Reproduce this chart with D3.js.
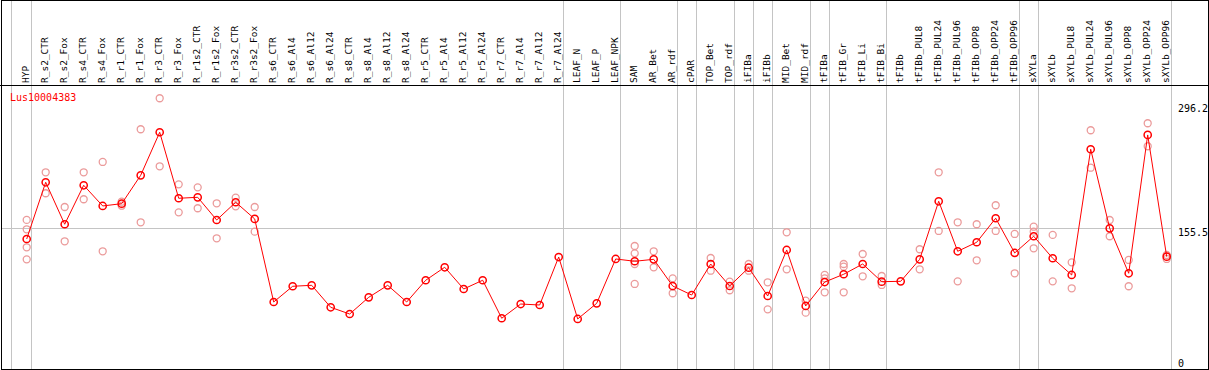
<!DOCTYPE html>
<html>
<head>
<meta charset="utf-8">
<script src="https://cdn.jsdelivr.net/npm/d3@7"></script>
<style>
	body { margin: 0; background: #fff; }
	svg { display: block; }
	.lbl { font-family: "DejaVu Sans Mono", monospace; font-size: 9.5px; fill: #000; }
	.axlbl { font-family: "DejaVu Sans Mono", monospace; font-size: 10px; fill: #000; }
</style>
</head>
<body>
<svg width="1209" height="370"></svg>
<script>
var geneName = "Lus10004383";

var labels = ["HYP", "R_s2_CTR", "R_s2_Fox", "R_s4_CTR", "R_s4_Fox", "R_r1_CTR", "R_r1_Fox",
	"R_r3_CTR", "R_r3_Fox", "R_r1s2_CTR", "R_r1s2_Fox", "R_r3s2_CTR", "R_r3s2_Fox",
	"R_s6_CTR", "R_s6_Al4", "R_s6_Al12", "R_s6_Al24", "R_s8_CTR", "R_s8_Al4", "R_s8_Al12", "R_s8_Al24",
	"R_r5_CTR", "R_r5_Al4", "R_r5_Al12", "R_r5_Al24", "R_r7_CTR", "R_r7_Al4", "R_r7_Al12", "R_r7_Al24",
	"LEAF_N", "LEAF_P", "LEAF_NPK", "SAM", "AR_Bet", "AR_rdf", "cPAR", "TOP_Bet", "TOP_rdf",
	"iFIBa", "iFIBb", "MID_Bet", "MID_rdf", "tFIBa", "tFIB_Gr", "tFIB_Li", "tFIB_Bi", "tFIBb",
	"tFIBb_PUL8", "tFIBb_PUL24", "tFIBb_PUL96", "tFIBb_OPP8", "tFIBb_OPP24", "tFIBb_OPP96",
	"sXYLa", "sXYLb", "sXYLb_PUL8", "sXYLb_PUL24", "sXYLb_PUL96", "sXYLb_OPP8", "sXYLb_OPP24", "sXYLb_OPP96"];

// mean expression per sample
var means = [143.4, 207.6, 160.1, 204.2, 180.8, 183.4, 215.5, 264.2, 189.5, 190.6, 164.9, 185.0, 166.1,
	72.1, 89.9, 91.0, 66.1, 58.5, 77.4, 91.0, 72.1, 96.7, 111.4, 86.8, 96.7, 53.7, 69.8, 68.7, 123.0,
	52.9, 70.6, 120.8, 118.2, 120.4, 90.2, 80.0, 115.1, 90.2, 110.9, 78.9, 131.0, 67.6,
	94.7, 103.5, 115.1, 95.1, 95.5, 120.4, 186.1, 129.5, 139.7, 166.9, 127.6,
	146.5, 121.6, 102.7, 245.0, 155.5, 104.6, 261.2, 123.4];

// replicate values (empty where none shown)
var reps = [[165.0, 154.4, 134.0, 120.4], [218.9, 195.2], [179.6, 140.8], [218.9, 188.4], [230.6, 129.5],
	[185.6, 181.1], [267.6, 162.3], [302.7, 225.7], [205.3, 173.6], [201.9, 178.2], [183.8, 144.2],
	[190.2, 180.4], [179.6, 151.7],
	[], [], [], [], [], [], [], [], [], [], [], [], [], [], [], [], [], [], [],
	[135.5, 127.2, 115.1, 92.5], [129.5, 111.4], [98.9, 82.0], [], [121.9, 107.5], [95.1, 85.4],
	[115.1, 107.5], [94.4, 63.8], [151.0, 109.1], [73.6, 60.0], [102.7, 98.9, 83.1], [115.1, 112.1, 83.1],
	[126.4, 101.2], [101.5, 91.4], [], [131.8, 109.1], [218.9, 152.5], [162.3, 95.5], [160.1, 119.3],
	[181.6, 152.5], [149.1, 104.6], [157.3, 151.7, 132.9], [148.0, 95.5], [117.0, 87.6], [266.5, 224.1],
	[164.9, 146.5], [119.7, 89.9], [274.4, 248.4], [125.3, 120.8]];

// last sample of each group -> vertical separator after it
var groupEnds = ["HYP", "R_r7_Al24", "LEAF_NPK", "AR_rdf", "cPAR", "TOP_rdf", "iFIBa", "iFIBb",
	"MID_rdf", "tFIBa", "tFIB_Bi", "tFIBb_OPP96", "sXYLa", "sXYLb_OPP96"];

var yTicks = [0, 155.5, 296.2];

var svg = d3.select("svg"),
	width = +svg.attr("width"),
	height = +svg.attr("height"),
	headerH = 85,
	plotLeft = 10.5;

var x = d3.scalePoint()
	.domain(labels)
	.range([26.7, 1166.7]);

var y = d3.scaleLinear()
	.domain([0, 296.2])
	.range([365.7, 104]);

var px = function(v) { return Math.round(v) + 0.5; };

// grid
var grid = svg.append("g").attr("class", "grid")
	.attr("stroke", "#c4c4c4")
	.attr("stroke-width", 1);
grid.append("line")
	.attr("x1", px(plotLeft)).attr("x2", px(plotLeft))
	.attr("y1", 0).attr("y2", height);
grid.selectAll("line.sep")
	.data(groupEnds)
	.enter().append("line")
	.attr("class", "sep")
	.attr("x1", function(d) { return px(x(d) + 4); })
	.attr("x2", function(d) { return px(x(d) + 4); })
	.attr("y1", 0).attr("y2", height);
grid.selectAll("line.h")
	.data([155.5])
	.enter().append("line")
	.attr("class", "h")
	.attr("x1", 1).attr("x2", px(x(labels[labels.length - 1]) + 4))
	.attr("y1", function(d) { return px(y(d)); })
	.attr("y2", function(d) { return px(y(d)); });

// frame + header separator
svg.append("rect")
	.attr("x", 1.5).attr("y", 0.5)
	.attr("width", 1207).attr("height", 369)
	.attr("fill", "none").attr("stroke", "#000");
svg.append("line")
	.attr("x1", 0).attr("x2", width)
	.attr("y1", headerH + 0.5).attr("y2", headerH + 0.5)
	.attr("stroke", "#000");

// sample names, rotated
svg.append("g").selectAll("text")
	.data(labels)
	.enter().append("text")
	.attr("class", "lbl")
	.attr("transform", function(d) { return "translate(" + (x(d) + 2.5) + "," + (headerH - 2) + ") rotate(-90)"; })
	.text(function(d) { return d; });

// right axis values
svg.append("g").selectAll("text")
	.data(yTicks)
	.enter().append("text")
	.attr("class", "axlbl")
	.attr("x", 1178)
	.attr("y", function(d) { return Math.min(y(d) + 7.5, 366.5); })
	.text(function(d) { return d; });

svg.append("text")
	.attr("class", "axlbl")
	.attr("x", 10).attr("y", 101)
	.attr("fill", "#f00")
	.style("fill", "#f00")
	.text(geneName);

// replicates
var repPts = [];
labels.forEach(function(l, i) {
	reps[i].forEach(function(v) { repPts.push({ name: l, v: v }); });
});
svg.append("g").selectAll("circle")
	.data(repPts)
	.enter().append("circle")
	.attr("cx", function(d) { return x(d.name); })
	.attr("cy", function(d) { return y(d.v); })
	.attr("r", 3.5)
	.attr("fill", "none")
	.attr("stroke", "#eb9b9b")
	.attr("stroke-width", 1.3);

// mean line
var line = d3.line()
	.x(function(d, i) { return x(labels[i]); })
	.y(function(d) { return y(d); });
svg.append("path")
	.datum(means)
	.attr("d", line)
	.attr("fill", "none")
	.attr("stroke", "#f00")
	.attr("stroke-width", 1);

svg.append("g").selectAll("circle")
	.data(means)
	.enter().append("circle")
	.attr("cx", function(d, i) { return x(labels[i]); })
	.attr("cy", function(d) { return y(d); })
	.attr("r", 3.6)
	.attr("fill", "none")
	.attr("stroke", "#f00")
	.attr("stroke-width", 1.5);
</script>
</body>
</html>
